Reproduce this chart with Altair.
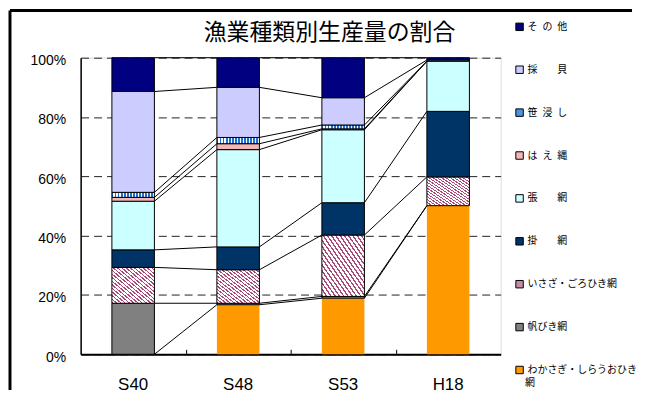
import altair as alt
import pandas as pd

# ---------------- data ----------------
categories = ["S40", "S48", "S53", "H18"]
series = ["わかさぎ・しらうおひき網", "帆びき網", "いさざ・ごろひき網", "掛　　網",
          "張　　網", "は\u2002え\u2002縄", "笹\u2002浸\u2002し", "採　　貝", "そ\u2002の\u2002他"]
wakasagi = [0.0, 16.7, 18.9, 50.1]
hobiki = [17.2, 0.5, 0.6, 0.0]
isaza = [12.1, 11.3, 20.7, 9.7]
kake = [5.9, 7.7, 10.9, 22.1]
hari = [16.4, 32.8, 24.6, 16.9]
haenawa = [1.3, 2.0, 0.3, 0.0]
sasabitashi = [1.7, 2.1, 1.3, 0.0]
saikai = [34.0, 16.9, 9.2, 0.4]
sonota = [11.4, 10.0, 13.5, 0.8]
series_values = [wakasagi, hobiki, isaza, kake, hari, haenawa, sasabitashi, saikai, sonota]
colors = ["#FF9900", "#808080", "#C48AA6", "#003366", "#CCFFFF",
          "#F4B6B6", "#4C94E0", "#CCCCFF", "#000080"]
y_ticks = [0, 20, 40, 60, 80, 100]
title_text = "漁業種類別生産量の割合"
long_label_lines = ["わかさぎ・しらうおひき", "網"]

PAD_INNER = 0.595  # gap between bars, fraction of step

# ---------------- tables ----------------
bar_rows = []
tops = {s: [] for s in series}
for ci, c in enumerate(categories):
    base = 0.0
    for si, s in enumerate(series):
        v = series_values[si][ci]
        bar_rows.append({"cat": c, "series": s, "y0": base, "y1": base + v, "v": v})
        base += v
        tops[s].append(base)
bars_df = pd.DataFrame(bar_rows)
bars_df = bars_df[bars_df["v"] > 0]

line_rows = []
for s in series:
    for ci in range(len(categories) - 1):
        line_rows.append({
            "series": s,
            "xa": ci + 1 - PAD_INNER / 2,
            "xb": ci + 1 + PAD_INNER / 2,
            "ya": tops[s][ci],
            "yb": tops[s][ci + 1],
        })
lines_df = pd.DataFrame(line_rows)


def stripes(c_line, c_bg, n, duty, x1, y1, x2, y2):
    stops = []
    for k in range(n):
        a = k / n
        b = (k + duty) / n
        e = (k + 1) / n
        stops += [{"offset": a, "color": c_line}, {"offset": b, "color": c_line},
                  {"offset": b, "color": c_bg}, {"offset": e, "color": c_bg}]
    return {"gradient": "linear", "x1": x1, "y1": y1, "x2": x2, "y2": y2, "stops": stops}


hatch = stripes("#A8497A", "#FFFFFF", 20, 0.38, 0, 1, 1, 0)
vstripe = stripes("#1F6FD0", "#FFFFFF", 14, 0.5, 0, 0, 1, 0)

legend_order = list(reversed(series))
legend_colors = list(reversed(colors))

label_expr = "datum.label === '%s' ? '%s' : datum.label" % (series[0], long_label_lines[0])

W, H = 422, 298
LEGEND_X, LEGEND_Y, ROW_PAD = 436, -36, 31.1

bars = alt.Chart(bars_df).mark_bar(stroke="black").encode(
    x=alt.X("cat:N", sort=categories,
            scale=alt.Scale(paddingInner=PAD_INNER, paddingOuter=PAD_INNER / 2),
            axis=alt.Axis(title=None, labelAngle=0, labelFont="Liberation Sans",
                          labelFontSize=17, labelColor="black", labelPadding=22,
                          ticks=False, tickSize=0, domainColor="black", domainWidth=2,
                          grid=False)),
    y=alt.Y("y0:Q", scale=alt.Scale(domain=[0, 100], nice=False),
            axis=alt.Axis(title=None, values=y_ticks, labelExpr="datum.value + '%'",
                          labelFont="Liberation Sans", labelFontSize=14,
                          labelColor="black", labelPadding=15, labelOffset=3,
                          ticks=False, tickSize=0, domainColor="black", domainWidth=1.5,
                          grid=True, gridColor="#222222", gridDash=[8, 5], gridWidth=1)),
    y2="y1:Q",
    color=alt.Color(
        "series:N",
        scale=alt.Scale(domain=legend_order, range=legend_colors),
        legend=alt.Legend(
            title=None, orient="none", legendX=LEGEND_X, legendY=LEGEND_Y, padding=0,
            symbolType="square", symbolSize=56, symbolStrokeColor="black",
            symbolStrokeWidth=1, labelFont="Noto Sans CJK JP", labelFontSize=10,
            labelColor="black", labelOffset=3, rowPadding=ROW_PAD, labelLimit=200,
            labelBaseline="middle",
            labelExpr=label_expr,
        ),
        condition=[
            {"test": "datum.series === '%s'" % series[2], "value": hatch},
            {"test": "datum.series === '%s'" % series[6], "value": vstripe},
        ],
    ),
    strokeWidth=alt.condition("datum.series === '%s'" % series[0],
                              alt.value(0), alt.value(1)),
)

lines = alt.Chart(lines_df).mark_rule(color="black", strokeWidth=1).encode(
    x=alt.X("xa:Q", scale=alt.Scale(domain=[0, len(categories)], nice=False, zero=False),
            axis=alt.Axis(orient="bottom", offset=-5, values=[1, 2, 3], tickSize=5,
                          ticks=True, tickColor="black", labels=False, domain=False,
                          grid=False, title=None)),
    x2="xb:Q",
    y=alt.Y("ya:Q", title=None),
    y2="yb:Q",
)

# second line of the wrapped legend label
wrap_df = pd.DataFrame({"t": [long_label_lines[1]]})
wrap_text = alt.Chart(wrap_df).mark_text(
    font="Noto Sans CJK JP", fontSize=10, color="black", align="left", baseline="middle"
).encode(text="t:N", x=alt.value(446.5), y=alt.value(327))

frame_df = pd.DataFrame({"k": [0]})
frame_top = alt.Chart(frame_df).mark_rule(color="black", strokeWidth=3).encode(
    x=alt.value(-71), x2=alt.value(554), y=alt.value(-47.5))
frame_left = alt.Chart(frame_df).mark_rule(color="black", strokeWidth=3).encode(
    x=alt.value(-71), y=alt.value(-47.5), y2=alt.value(334))

chart = alt.layer(bars, lines, wrap_text, frame_top, frame_left).resolve_scale(
    x="independent"
).properties(
    width=W, height=H, padding=0,
    title=alt.Title(title_text, font="Noto Sans CJK JP", fontSize=23, fontWeight="normal",
                    color="black", anchor="middle", frame="group", dx=39, offset=-36),
).configure_view(stroke="black", strokeWidth=1).configure(background="white")

chart.save("out.html", embed_options={"renderer": "svg", "actions": False})
